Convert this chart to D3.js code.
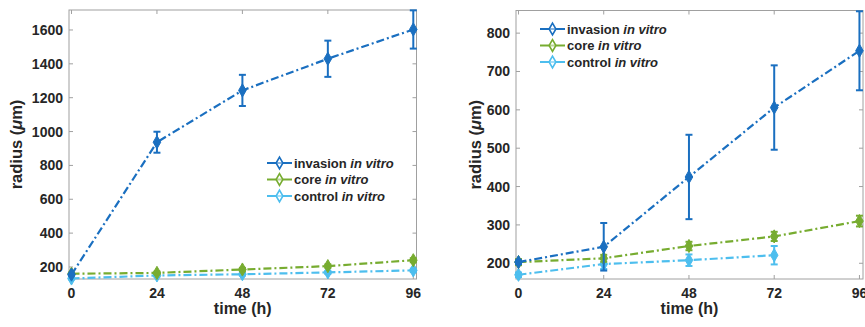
<!DOCTYPE html>
<html>
<head>
<meta charset="utf-8">
<script src="https://cdn.jsdelivr.net/npm/d3@7"></script>
<style>
  html, body { margin: 0; padding: 0; background: #fff; }
  svg { display: block; font-family: "Liberation Sans", Arial, sans-serif; }
</style>
</head>
<body>
<div id="chart"></div>
<script>
// time points (h)
const times = [0, 24, 48, 72, 96];
const xTicks = [0, 24, 48, 72, 96];

// left panel: means and error half-widths (radius, um)
const leftInvasion = [155, 937, 1243, 1430, 1603];
const leftInvasionErr = [5, 62, 92, 107, 113];
const leftCore = [160, 165, 185, 205, 240];
const leftCoreErr = [6, 8, 10, 10, 12];
const leftControl = [132, 150, 157, 168, 180];
const leftControlErr = [5, 7, 8, 9, 10];
const leftYTicks = [200, 400, 600, 800, 1000, 1200, 1400, 1600];

// right panel
const rightInvasion = [203, 243, 425, 606, 754];
const rightInvasionErr = [5, 62, 110, 110, 103];
const rightCore = [203, 213, 245, 270, 310];
const rightCoreErr = [8, 9, 11, 12, 14];
const rightControl = [170, 198, 208, 221];
const rightControlErr = [6, 13, 15, 24];
const rightYTicks = [200, 300, 400, 500, 600, 700, 800];

const seriesNames = ['invasion', 'core', 'control'];
const colors = { invasion: '#1a6fc0', core: '#77ac30', control: '#4dbeee' };

const W = 865, H = 327;
const textColor = '#262626';
const boxColor = '#a0a0a0';

const svg = d3.select('#chart').append('svg')
  .attr('width', W).attr('height', H);
svg.append('rect').attr('width', W).attr('height', H).attr('fill', '#fff');

function drawPanel(cfg) {
  const x = d3.scaleLinear().domain(cfg.xDomain).range([cfg.left, cfg.right]);
  const y = d3.scaleLinear().domain(cfg.yDomain).range([cfg.bottom, cfg.top]);
  const g = svg.append('g');

  // box
  g.append('rect')
    .attr('x', cfg.left).attr('y', cfg.top)
    .attr('width', cfg.right - cfg.left).attr('height', cfg.bottom - cfg.top)
    .attr('fill', 'none').attr('stroke', boxColor).attr('stroke-width', 1);

  // ticks inside on all sides
  const tl = 4;
  xTicks.forEach(t => {
    const px = x(t);
    g.append('line').attr('x1', px).attr('x2', px).attr('y1', cfg.bottom).attr('y2', cfg.bottom - tl)
      .attr('stroke', boxColor);
    g.append('line').attr('x1', px).attr('x2', px).attr('y1', cfg.top).attr('y2', cfg.top + tl)
      .attr('stroke', boxColor);
    g.append('text').attr('x', px).attr('y', cfg.bottom + 19)
      .attr('text-anchor', 'middle').attr('font-size', 14).attr('font-weight', 'bold')
      .attr('fill', textColor).text(t);
  });
  cfg.yTicks.forEach(t => {
    const py = y(t);
    g.append('line').attr('x1', cfg.left).attr('x2', cfg.left + tl).attr('y1', py).attr('y2', py)
      .attr('stroke', boxColor);
    g.append('line').attr('x1', cfg.right).attr('x2', cfg.right - tl).attr('y1', py).attr('y2', py)
      .attr('stroke', boxColor);
    g.append('text').attr('x', cfg.left - 6).attr('y', py + 5)
      .attr('text-anchor', 'end').attr('font-size', 14).attr('font-weight', 'bold')
      .attr('fill', textColor).text(t);
  });

  // axis labels
  g.append('text').attr('x', (cfg.left + cfg.right) / 2).attr('y', 314)
    .attr('text-anchor', 'middle').attr('font-size', 16).attr('font-weight', 'bold')
    .attr('fill', textColor).text('time (h)');
  const yl = g.append('text')
    .attr('transform', `translate(${cfg.yLabelX},${(cfg.top + cfg.bottom) / 2}) rotate(-90)`)
    .attr('text-anchor', 'middle').attr('font-size', 16.5).attr('font-weight', 'bold')
    .attr('fill', textColor);
  yl.append('tspan').text('radius (');
  yl.append('tspan').attr('font-style', 'italic').text('\u03bc');
  yl.append('tspan').text('m)');

  const diamond = d3.symbol().type(d3.symbolDiamond);

  // series: drawn control, core, invasion so invasion on top
  ['control', 'core', 'invasion'].forEach(name => {
    const vals = cfg.data[name], errs = cfg.err[name];
    const pts = vals.map((v, i) => ({ t: times[i], v, e: errs[i] }));
    const c = colors[name];
    const line = d3.line().x(d => x(d.t)).y(d => y(d.v));
    g.append('path').attr('d', line(pts)).attr('fill', 'none')
      .attr('stroke', c).attr('stroke-width', 2.2)
      .attr('stroke-dasharray', '8,3,2,3');
    pts.forEach(d => {
      const px = x(d.t), y1 = y(d.v + d.e), y0 = y(d.v - d.e);
      g.append('line').attr('x1', px).attr('x2', px).attr('y1', y1).attr('y2', y0)
        .attr('stroke', c).attr('stroke-width', 2);
      [y1, y0].forEach(yy => {
        g.append('line').attr('x1', px - 3.5).attr('x2', px + 3.5).attr('y1', yy).attr('y2', yy)
          .attr('stroke', c).attr('stroke-width', 2);
      });
      g.append('path').attr('d', diamond.size(50)())
        .attr('transform', `translate(${px},${y(d.v)})`)
        .attr('fill', c).attr('stroke', c).attr('stroke-width', 1);
    });
  });

  // legend
  seriesNames.forEach((name, i) => {
    const ly = cfg.legY + i * 16.5;
    const c = colors[name];
    g.append('line').attr('x1', cfg.legX).attr('x2', cfg.legX + 25).attr('y1', ly).attr('y2', ly)
      .attr('stroke', c).attr('stroke-width', 2);
    g.append('path').attr('d', diamond.size(40)())
      .attr('transform', `translate(${cfg.legX + 12.5},${ly})`)
      .attr('fill', '#fff').attr('fill-opacity', 0.5).attr('stroke', c).attr('stroke-width', 1.6);
    const tx = g.append('text').attr('x', cfg.legX + 27).attr('y', ly + 4.5)
      .attr('font-size', 13).attr('font-weight', 'bold').attr('fill', textColor);
    tx.append('tspan').text(name + ' ');
    tx.append('tspan').attr('font-style', 'italic').text('in vitro');
  });
}

drawPanel({
  left: 69, right: 416.5, top: 10, bottom: 279,
  xDomain: [-0.7, 96.9], yDomain: [129, 1718], yTicks: leftYTicks,
  yLabelX: 22,
  data: { invasion: leftInvasion, core: leftCore, control: leftControl },
  err: { invasion: leftInvasionErr, core: leftCoreErr, control: leftControlErr },
  legX: 267, legY: 163
});

drawPanel({
  left: 516, right: 863, top: 10.5, bottom: 279,
  xDomain: [-0.7, 97], yDomain: [159, 859], yTicks: rightYTicks,
  yLabelX: 481,
  data: { invasion: rightInvasion, core: rightCore, control: rightControl },
  err: { invasion: rightInvasionErr, core: rightCoreErr, control: rightControlErr },
  legX: 540, legY: 29
});
</script>
</body>
</html>
